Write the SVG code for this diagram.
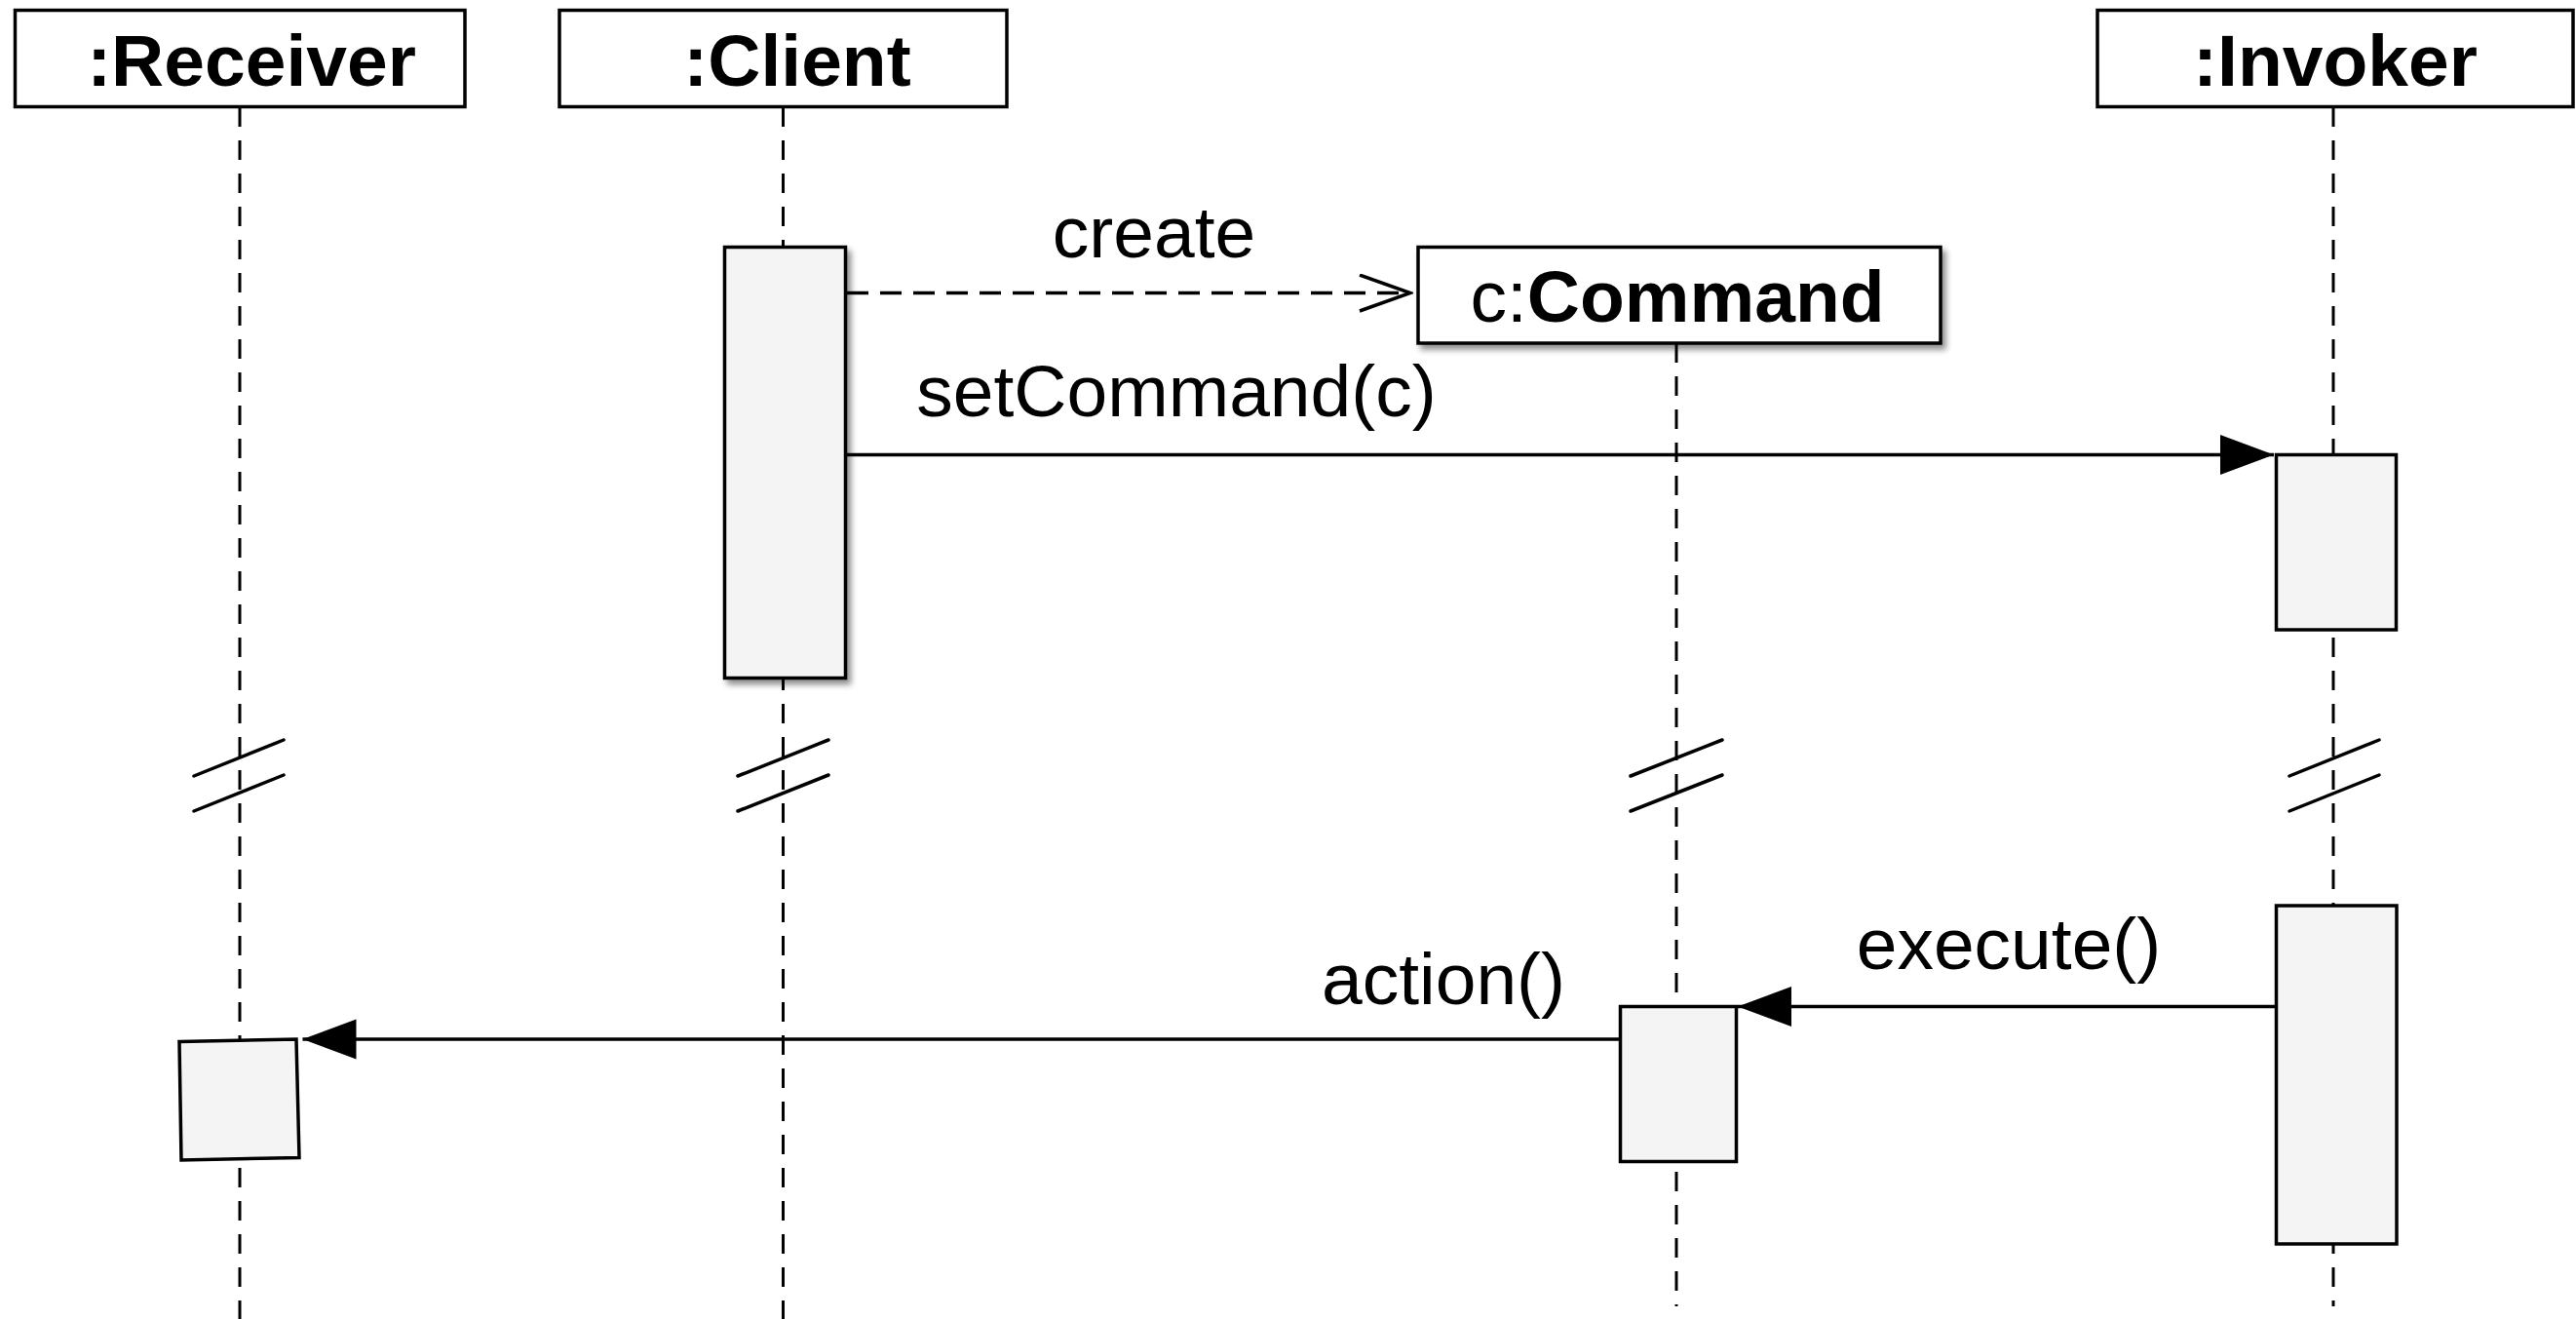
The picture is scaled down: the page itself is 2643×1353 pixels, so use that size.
<svg xmlns="http://www.w3.org/2000/svg" width="2643" height="1353" viewBox="0 0 2643 1353">
<style>
  .box { fill: #ffffff; stroke: #000; stroke-width: 3.5; }
  .act { fill: #f4f4f4; stroke: #000; stroke-width: 3.5; }
  .life { fill: none; stroke: #000; stroke-width: 3; stroke-dasharray: 20 14; }
  .brk { fill: none; stroke: #000; stroke-width: 3.5; stroke-linecap: round; }
  .msg { fill: none; stroke: #000; stroke-width: 3.5; }
  .dash { stroke-dasharray: 22 12; }
  .hdr { font-family: "Liberation Sans", Arial, Helvetica, sans-serif; font-size: 75px; font-weight: bold; fill: #000; text-anchor: middle; }
  .lbl { font-family: "Liberation Sans", Arial, Helvetica, sans-serif; font-size: 75px; fill: #000; text-anchor: middle; }
</style>
<defs>
  <filter id="shadow" x="-20%" y="-20%" width="150%" height="150%">
    <feGaussianBlur in="SourceAlpha" stdDeviation="3"/>
    <feOffset dx="4" dy="5" result="b"/>
    <feComponentTransfer><feFuncA type="linear" slope="0.45"/></feComponentTransfer>
    <feMerge><feMergeNode/><feMergeNode in="SourceGraphic"/></feMerge>
  </filter>
  <marker id="filled" markerUnits="userSpaceOnUse" markerWidth="56" markerHeight="42" refX="55" refY="20.5" orient="auto">
    <path d="M0,0 L55,20.5 L0,41 Z" fill="#000" stroke="none"/>
  </marker>
  <marker id="open" markerUnits="userSpaceOnUse" markerWidth="56" markerHeight="42" refX="53" refY="20" orient="auto">
    <path d="M1,1.5 L53,20 L1,38.5" fill="none" stroke="#000" stroke-width="3.5" stroke-dasharray="none"/>
  </marker>
</defs>

<g id="lifelines">
  <line class="life" x1="246" y1="110" x2="246" y2="1353"/>
  <line class="life" x1="803.5" y1="110" x2="803.5" y2="1353"/>
  <line class="life" x1="1720" y1="352" x2="1720" y2="1340"/>
  <line class="life" x1="2394" y1="110" x2="2394" y2="1340"/>
</g>

<g id="breaks">
  <line class="brk" x1="199" y1="796" x2="291" y2="759"/>
  <line class="brk" x1="199" y1="832" x2="291" y2="795"/>
  <line class="brk" x1="757" y1="796" x2="850" y2="759"/>
  <line class="brk" x1="757" y1="832" x2="850" y2="795"/>
  <line class="brk" x1="1673" y1="796" x2="1767" y2="759"/>
  <line class="brk" x1="1673" y1="832" x2="1767" y2="795"/>
  <line class="brk" x1="2349" y1="796" x2="2441" y2="759"/>
  <line class="brk" x1="2349" y1="832" x2="2441" y2="795"/>
</g>

<g id="receiver">
  <rect class="box" x="15.5" y="10.5" width="461.5" height="99"/>
  <text class="hdr" x="258" y="88">:Receiver</text>
</g>
<g id="client">
  <rect class="box" x="574" y="10.5" width="459" height="99"/>
  <text class="hdr" x="818" y="88">:Client</text>
</g>
<g id="invoker">
  <rect class="box" x="2152" y="10.5" width="488" height="99"/>
  <text class="hdr" x="2396" y="88">:Invoker</text>
</g>
<g id="command">
  <rect class="box" x="1455" y="253.5" width="536" height="98.5" filter="url(#shadow)"/>
  <text class="lbl" x="1721" y="329.5"><tspan>c:</tspan><tspan font-weight="bold">Command</tspan></text>
</g>

<g id="client-activation">
  <rect class="act" x="743.5" y="253.5" width="124" height="442" filter="url(#shadow)"/>
</g>
<g id="invoker-activation-1">
  <rect class="act" x="2335.5" y="466.5" width="123" height="179.5"/>
</g>
<g id="invoker-activation-2">
  <rect class="act" x="2335.5" y="929" width="123.5" height="347"/>
</g>
<g id="command-activation">
  <rect class="act" x="1662.5" y="1032.5" width="119" height="159"/>
</g>
<g id="receiver-activation">
  <polygon class="act" points="184,1068.5 304,1066 307,1187.5 186,1190"/>
</g>

<g id="connectors">
  <line class="msg dash" x1="869" y1="300.5" x2="1447" y2="300.5" marker-end="url(#open)"/>
  <line class="msg" x1="869" y1="466.5" x2="2333" y2="466.5" marker-end="url(#filled)"/>
  <line class="msg" x1="2334" y1="1032.5" x2="1783" y2="1032.5" marker-end="url(#filled)"/>
  <line class="msg" x1="1661" y1="1066" x2="310.5" y2="1066" marker-end="url(#filled)"/>
</g>

<g id="labels">
  <text class="lbl" x="1184" y="264">create</text>
  <text class="lbl" x="1207" y="427">setCommand(c)</text>
  <text class="lbl" x="2061" y="994">execute()</text>
  <text class="lbl" x="1481" y="1030">action()</text>
</g>
</svg>
